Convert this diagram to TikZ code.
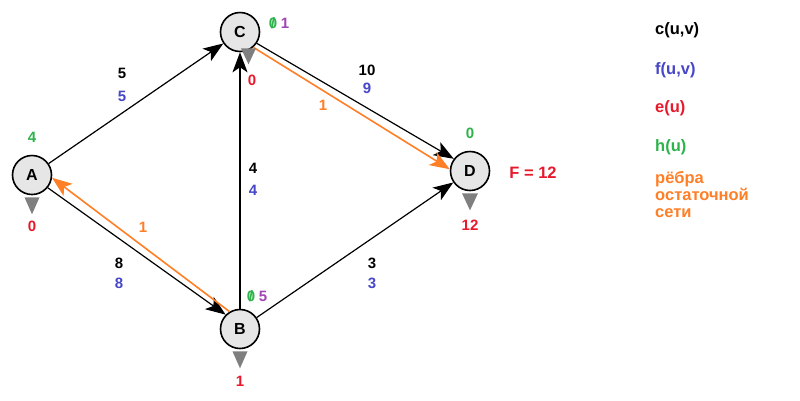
\documentclass[tikz,border=0pt]{standalone}
\usepackage{fontspec}
\setmainfont{Liberation Sans}
\usetikzlibrary{arrows.meta,calc}
\definecolor{cblue}{HTML}{4646C8}
\definecolor{cred}{HTML}{E8192C}
\definecolor{cgreen}{HTML}{2DB34A}
\definecolor{corange}{HTML}{FF7F27}
\definecolor{cpurple}{HTML}{A046B4}
\definecolor{nodefill}{HTML}{E6E6E6}
\definecolor{trigray}{HTML}{7F7F7F}
\begin{document}
\begin{tikzpicture}[x=1pt,y=-1pt,
  vert/.style={circle,draw=black,line width=1.6pt,fill=nodefill,minimum size=39pt,inner sep=0pt,font=\bfseries\fontsize{16}{18}\selectfont},
  lbl/.style={inner sep=0pt,font=\bfseries\fontsize{15}{17}\selectfont},
  big/.style={inner sep=0pt,font=\bfseries\fontsize{16.5}{19}\selectfont},
  edge/.style={line width=1.2pt,-{Stealth[length=20pt,width=15pt,inset=5pt]}},
  redge/.style={line width=1.6pt,draw=corange,-{Stealth[length=20pt,width=15pt,inset=5pt]}},
  tri/.style={fill=trigray}]
\useasboundingbox (0,0) rectangle (800,400);
\fill[white] (0,0) rectangle (800,400);

\node[vert] (A) at (32,175) {A};
\node[vert] (C) at (240,32) {C};
\node[vert] (B) at (240,329) {B};
\node[vert] (D) at (470,171) {D};

% connectors
\draw[edge] (A) -- (C);
\draw[edge] (A.-39) -- (B.135);
\draw[redge] (B.121) -- (A.-8);
\draw[edge] (B.north) -- (C.south);
\draw[edge] (C.-34) -- (D.143);
\draw[redge] (C.-49) -- (D.175);
\draw[edge] (B) -- (D);

% gray markers
\fill[tri] ([xshift=-7.5pt,yshift=-2pt]A.south) -- ([xshift=7.5pt,yshift=-2pt]A.south) -- ([yshift=-19pt]A.south) -- cycle;
\fill[tri] ([xshift=1pt,yshift=4pt]C.south) -- ([xshift=16pt,yshift=4pt]C.south) -- ([xshift=8.5pt,yshift=-12pt]C.south) -- cycle;
\fill[tri] ([xshift=-7.5pt,yshift=-2pt]B.south) -- ([xshift=7.5pt,yshift=-2pt]B.south) -- ([yshift=-19pt]B.south) -- cycle;
\fill[tri] ([xshift=-8pt,yshift=-2pt]D.south) -- ([xshift=8pt,yshift=-2pt]D.south) -- ([yshift=-19pt]D.south) -- cycle;

% edge labels
\node[lbl] (acc) at (122,73) {5};
\node[lbl,text=cblue] (acf) at (122,96) {5};
\node[lbl] (abc) at (119,263) {8};
\node[lbl,text=cblue] (abf) at (119,283) {8};
\node[lbl,text=corange] (bar) at (143,227) {1};
\node[lbl] (bcc) at (253,168) {4};
\node[lbl,text=cblue] (bcf) at (253,190) {4};
\node[lbl] (cdc) at (367,70) {10};
\node[lbl,text=cblue] (cdf) at (367,88) {9};
\node[lbl,text=corange] (cdr) at (323,105) {1};
\node[lbl] (bdc) at (372,263) {3};
\node[lbl,text=cblue] (bdf) at (372,283) {3};

% node labels
\node[lbl,text=cgreen] (Ah) at (32,137) {4};
\node[lbl,text=cred] (Ae) at (32,226) {0};
\node[lbl,text=cgreen] (Ch0) at (273,23) {\ooalign{0\cr\hidewidth/\hidewidth}};
\node[lbl,text=cpurple] (Ch1) at (285,23) {1};
\node[lbl,text=cred] (Ce) at (252,80) {0};
\node[lbl,text=cgreen] (Bh0) at (251,296) {\ooalign{0\cr\hidewidth/\hidewidth}};
\node[lbl,text=cpurple] (Bh1) at (263,296) {5};
\node[lbl,text=cred] (Be) at (240,381) {1};
\node[lbl,text=cgreen] (Dh) at (470,133) {0};
\node[lbl,text=cred] (De) at (470,225) {12};
\node[big,text=cred] (F) at (533,173) {F = 12};

% legend
\node[big,anchor=west] (l1) at (655,30) {c(u,v)};
\node[big,anchor=west,text=cblue] (l2) at (655,70) {f(u,v)};
\node[big,anchor=west,text=cred] (l3) at (655,108) {e(u)};
\node[big,anchor=west,text=cgreen] (l4) at (655,147) {h(u)};
\node[big,anchor=north west,text=corange,align=left] (l5) at (655,171) {рёбра\\[-2pt]остаточной\\[-2pt]сети};
\end{tikzpicture}
\end{document}
